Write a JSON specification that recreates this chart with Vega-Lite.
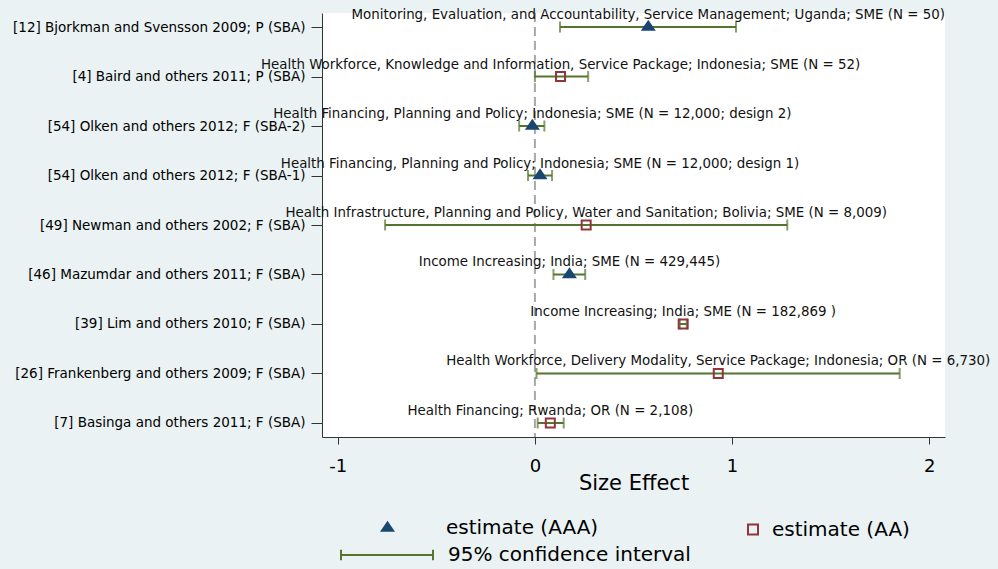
{
  "$schema": "https://vega.github.io/schema/vega-lite/v6.json",
  "width": 623,
  "height": 424,
  "autosize": {"type": "none"},
  "padding": {"left": 322, "top": 13, "right": 53, "bottom": 132},
  "background": "#eaf2f3",
  "config": {
    "view": {"stroke": null, "fill": "white"},
    "font": "DejaVu Sans",
    "axisX": {"domainColor": "#333333", "tickColor": "#333333", "tickSize": 7, "labelPadding": 13, "labelFontSize": 18, "labelColor": "#000000", "labelFont": "DejaVu Sans", "titleFont": "DejaVu Sans", "titleFontSize": 21, "titleFontWeight": "normal", "titleColor": "#000000", "titleBaseline": "alphabetic", "titleY": 52, "grid": false, "labelFlush": false},
    "axisY": {"domainColor": "#333333", "tickColor": "#333333", "tickSize": 11, "labelPadding": 6, "labelFontSize": 13.5, "labelColor": "#000000", "labelFont": "DejaVu Sans", "grid": false, "labelLimit": 400},
    "legend": {"labelFont": "DejaVu Sans", "labelFontSize": 20, "labelColor": "#000000", "labelLimit": 500, "padding": 0, "offset": 0}
  },
  "data": {
    "values": [
      {"study": "[12] Bjorkman and Svensson 2009; P (SBA)", "est": 0.575, "lo": 0.127, "hi": 1.02, "marker": "estimate (AAA)", "note": "Monitoring, Evaluation, and Accountability, Service Management; Uganda; SME (N = 50)"},
      {"study": "[4]  Baird and others 2011; P (SBA)", "est": 0.13, "lo": 0.0, "hi": 0.27, "marker": "estimate (AA)", "note": "Health Workforce, Knowledge and Information, Service Package; Indonesia; SME (N = 52)"},
      {"study": "[54] Olken and others 2012; F (SBA-2)", "est": -0.013, "lo": -0.08, "hi": 0.048, "marker": "estimate (AAA)", "note": "Health Financing, Planning and Policy; Indonesia; SME (N = 12,000; design 2)"},
      {"study": "[54] Olken and others 2012; F (SBA-1)", "est": 0.026, "lo": -0.035, "hi": 0.087, "marker": "estimate (AAA)", "note": "Health Financing, Planning and Policy; Indonesia; SME (N = 12,000; design 1)"},
      {"study": "[49] Newman and others 2002; F (SBA)", "est": 0.26, "lo": -0.76, "hi": 1.28, "marker": "estimate (AA)", "note": "Health Infrastructure, Planning and Policy, Water and Sanitation; Bolivia; SME (N = 8,009)"},
      {"study": "[46] Mazumdar and others 2011; F (SBA)", "est": 0.175, "lo": 0.094, "hi": 0.255, "marker": "estimate (AAA)", "note": "Income Increasing; India; SME (N = 429,445)"},
      {"study": "[39] Lim and others 2010; F (SBA)", "est": 0.752, "lo": 0.735, "hi": 0.77, "marker": "estimate (AA)", "note": "Income Increasing; India; SME (N = 182,869 )"},
      {"study": "[26] Frankenberg and others 2009; F (SBA)", "est": 0.93, "lo": 0.008, "hi": 1.85, "marker": "estimate (AA)", "note": "Health Workforce, Delivery Modality, Service Package; Indonesia; OR (N = 6,730)"},
      {"study": "[7]  Basinga and others 2011; F (SBA)", "est": 0.078, "lo": 0.014, "hi": 0.146, "marker": "estimate (AA)", "note": "Health Financing; Rwanda; OR (N = 2,108)"}
    ]
  },
  "layer": [
    {
      "data": {"values": [{}]},
      "mark": {"type": "rule", "color": "#a8a8a8", "strokeWidth": 2, "strokeDash": [9, 5]},
      "encoding": {
        "x": {"datum": 0, "type": "quantitative", "scale": {"domain": [-1.08, 2.08], "nice": false, "zero": false}, "axis": {"values": [-1, 0, 1, 2], "labelExpr": "'' + datum.value"}, "title": "Size Effect"}
      }
    },
    {
      "mark": {"type": "rule", "strokeWidth": 2},
      "encoding": {
        "y": {"field": "study", "type": "nominal", "sort": null, "title": null, "scale": {"type": "point", "padding": 0.283, "domain": ["[12] Bjorkman and Svensson 2009; P (SBA)", "[4]  Baird and others 2011; P (SBA)", "[54] Olken and others 2012; F (SBA-2)", "[54] Olken and others 2012; F (SBA-1)", "[49] Newman and others 2002; F (SBA)", "[46] Mazumdar and others 2011; F (SBA)", "[39] Lim and others 2010; F (SBA)", "[26] Frankenberg and others 2009; F (SBA)", "[7]  Basinga and others 2011; F (SBA)"]}},
        "x": {"field": "lo", "type": "quantitative", "scale": {"domain": [-1.08, 2.08], "nice": false, "zero": false}, "axis": {"values": [-1, 0, 1, 2], "labelExpr": "'' + datum.value"}, "title": "Size Effect"},
        "x2": {"field": "hi"},
        "color": {"datum": "95% confidence interval", "type": "nominal", "scale": {"range": ["#55752f"]}, "legend": {"orient": "none", "legendX": 18, "legendY": 495, "title": null, "symbolType": "M-1,0H1M-1,-0.115V0.115M1,-0.115V0.115", "symbolSize": 8464, "symbolStrokeWidth": 2, "symbolFillColor": "transparent", "labelOffset": 14}}
      }
    },
    {
      "mark": {"type": "tick", "color": "#55752f", "thickness": 2, "size": 11},
      "encoding": {
        "y": {"field": "study", "type": "nominal", "sort": null, "title": null},
        "x": {"field": "lo", "type": "quantitative", "title": "Size Effect"}
      }
    },
    {
      "mark": {"type": "tick", "color": "#55752f", "thickness": 2, "size": 11},
      "encoding": {
        "y": {"field": "study", "type": "nominal", "sort": null, "title": null},
        "x": {"field": "hi", "type": "quantitative", "title": "Size Effect"}
      }
    },
    {
      "transform": [{"filter": "datum.marker == 'estimate (AAA)'"}],
      "mark": {"type": "point", "shape": "M0,-0.98L-1,0.49L1,0.49Z", "filled": true, "size": 225, "opacity": 1},
      "encoding": {
        "y": {"field": "study", "type": "nominal", "sort": null, "title": null},
        "x": {"field": "est", "type": "quantitative", "title": "Size Effect"},
        "color": {"field": "marker", "type": "nominal", "scale": {"domain": ["estimate (AAA)"], "range": ["#1a476f"]}, "legend": {"orient": "none", "legendX": 55.5, "legendY": 505, "title": null, "symbolType": "M0,-0.98L-1,0.49L1,0.49Z", "symbolSize": 225, "labelOffset": 48.5}}
      }
    },
    {
      "transform": [{"filter": "datum.marker == 'estimate (AA)'"}],
      "mark": {"type": "point", "shape": "square", "filled": false, "size": 81, "strokeWidth": 2, "opacity": 1},
      "encoding": {
        "y": {"field": "study", "type": "nominal", "sort": null, "title": null},
        "x": {"field": "est", "type": "quantitative", "title": "Size Effect"},
        "color": {"field": "marker", "type": "nominal", "scale": {"domain": ["estimate (AA)"], "range": ["#90353b"]}, "legend": {"orient": "none", "legendX": 421, "legendY": 506.5, "title": null, "symbolType": "square", "symbolSize": 100, "symbolStrokeWidth": 2, "labelOffset": 9}}
      }
    },
    {
      "mark": {"type": "text", "font": "DejaVu Sans", "fontSize": 13.4, "baseline": "alphabetic", "align": "center", "dy": -8, "color": "#111111"},
      "encoding": {
        "y": {"field": "study", "type": "nominal", "sort": null, "title": null},
        "x": {"field": "est", "type": "quantitative", "title": "Size Effect"},
        "text": {"field": "note"}
      }
    }
  ],
  "resolve": {"scale": {"color": "independent"}}
}
